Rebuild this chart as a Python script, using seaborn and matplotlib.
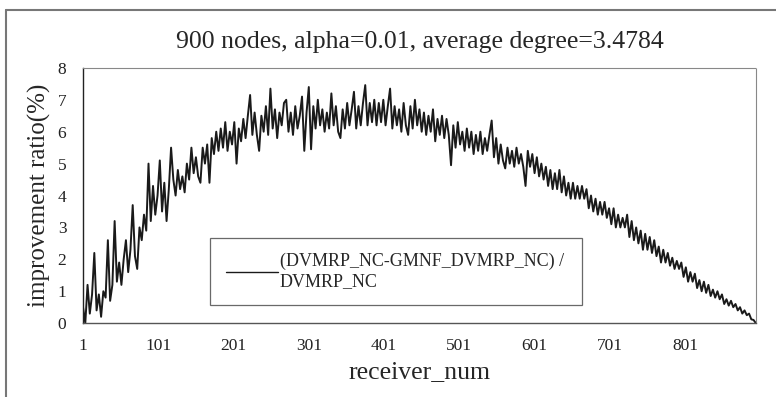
import numpy as np
import pandas as pd
import seaborn as sns
import matplotlib.pyplot as plt
from matplotlib.lines import Line2D

# improvement ratio (%), one value every 3 receivers (1, 4, 7, ... 895)
ratio = [
    0.5, 0.0, 1.2, 0.3, 0.9, 2.2, 0.4, 0.9, 0.2, 1.0,
    0.8, 2.6, 0.7, 1.2, 3.2, 1.3, 1.9, 1.2, 2.0, 2.6,
    1.6, 2.3, 3.7, 2.1, 1.7, 3.0, 2.6, 3.4, 2.9, 5.0,
    3.2, 4.3, 3.4, 4.0, 5.1, 3.5, 4.4, 3.2, 4.2, 5.5,
    4.5, 4.0, 4.8, 4.2, 4.6, 4.1, 5.0, 4.5, 5.5, 4.7,
    5.2, 4.6, 4.4, 5.5, 5.0, 5.6, 4.4, 5.8, 5.3, 6.0,
    5.4, 6.1, 5.5, 6.3, 5.4, 6.0, 5.6, 6.3, 5.0, 6.1,
    5.7, 6.4, 5.8, 6.5, 7.15, 5.9, 6.6, 5.9, 5.4, 6.5,
    6.0, 6.8, 5.9, 7.35, 6.1, 6.7, 5.8, 6.6, 6.2, 6.9,
    7.0, 6.0, 6.6, 5.9, 6.8, 6.1, 6.5, 7.1, 5.4, 6.6,
    7.4, 5.45, 6.8, 6.1, 7.0, 6.2, 6.7, 6.0, 6.6, 6.1,
    7.2, 6.2, 6.8, 6.0, 5.8, 6.7, 6.1, 6.9, 6.2, 6.7,
    7.25, 6.1, 6.8, 6.2, 6.9, 7.46, 6.2, 6.9, 6.3, 7.0,
    6.2, 6.9, 6.3, 7.0, 6.2, 6.8, 7.35, 6.1, 6.8, 6.2,
    6.7, 6.0, 6.9, 6.2, 5.9, 6.8, 6.1, 7.0, 6.2, 6.7,
    6.0, 6.6, 5.9, 6.5, 6.0, 6.7, 5.7, 6.4, 5.9, 6.5,
    5.8, 6.4, 5.9, 4.95, 6.2, 5.5, 6.3, 5.6, 6.0, 5.4,
    6.1, 5.5, 6.0, 5.3, 5.9, 5.4, 6.0, 5.3, 5.8, 5.4,
    5.9, 6.35, 5.2, 5.8, 5.0, 5.6, 5.1, 4.85, 5.5, 5.0,
    5.4, 4.9, 5.5, 5.0, 5.3, 4.9, 4.3, 5.4, 4.9, 5.3,
    4.7, 5.2, 4.6, 5.0, 4.5, 4.9, 4.3, 4.8, 4.2, 4.7,
    4.2, 4.8, 4.1, 4.6, 4.0, 4.4, 3.9, 4.4, 3.9, 4.3,
    3.9, 4.3, 3.9, 4.2, 3.6, 4.0, 3.5, 3.9, 3.4, 3.8,
    3.4, 3.8, 3.3, 3.6, 3.1, 3.6, 3.0, 3.4, 3.0, 3.3,
    3.0, 3.4, 2.7, 3.2, 2.6, 3.0, 2.5, 2.9, 2.3, 2.8,
    2.3, 2.7, 2.2, 2.6, 2.1, 2.4, 1.9, 2.3, 1.9, 2.2,
    1.8, 2.05, 1.7, 1.95, 1.7, 1.9, 1.45, 1.75, 1.3, 1.6,
    1.3, 1.55, 1.1, 1.35, 1.0, 1.3, 0.95, 1.2, 0.85, 1.05,
    0.8, 1.0, 0.75, 0.9, 0.6, 0.75, 0.55, 0.7, 0.5, 0.6,
    0.4, 0.5, 0.3, 0.4, 0.25, 0.3, 0.12, 0.1, 0.0,
]
receivers = np.arange(1, 1 + 3 * len(ratio), 3)
x_ticks = [1, 101, 201, 301, 401, 501, 601, 701, 801]
y_ticks = [0, 1, 2, 3, 4, 5, 6, 7, 8]
series_name = "(DVMRP_NC-GMNF_DVMRP_NC) /\nDVMRP_NC"
title = "900 nodes, alpha=0.01, average degree=3.4784"

df = pd.DataFrame({"receiver_num": receivers, "ratio": ratio})

sns.set_style("white")
plt.rcParams["font.family"] = ["Liberation Serif", "DejaVu Serif"]

fig = plt.figure(figsize=(7.76, 3.97), dpi=100)
ax = fig.add_axes([0.107, 0.186, 0.867, 0.643])

sns.lineplot(data=df, x="receiver_num", y="ratio", color="#1a1a1a",
             linewidth=1.4, label=series_name, ax=ax)

ax.set_xlim(1, 895)
ax.set_ylim(0, 8)
ax.set_xticks(x_ticks)
ax.set_yticks(y_ticks)
ax.tick_params(direction="in", length=4, width=0.8, colors="#222222",
               labelsize=12.5)
ax.tick_params(axis="x", pad=11)
ax.tick_params(axis="y", pad=12)

ax.set_xlabel("receiver_num", fontsize=18.5, labelpad=5)
ax.set_ylabel("improvement ratio(%)", fontsize=18, labelpad=5)
ax.set_title(title, fontsize=18.5, pad=14)

for side in ["top", "right"]:
    ax.spines[side].set_linestyle((0, (1, 1)))
    ax.spines[side].set_color("#888888")
    ax.spines[side].set_linewidth(0.8)
ax.spines["bottom"].set_linestyle((0, (1, 1)))
ax.spines["bottom"].set_color("#555555")
ax.spines["bottom"].set_linewidth(1.0)
ax.spines["left"].set_color("#222222")
ax.spines["left"].set_linewidth(1.0)

leg = ax.legend(loc="lower left", bbox_to_anchor=(0.189, 0.07, 0.552, 0.27),
                mode="expand", fontsize=13, frameon=True, fancybox=False,
                borderpad=0.85, handlelength=2.9, handletextpad=0.1,
                borderaxespad=0)
leg.get_frame().set_edgecolor("#444444")
leg.get_frame().set_linewidth(0.9)
for h in leg.get_lines():
    h.set_linewidth(1.0)

# outer chart-area border (left and top edges are visible)
fig.add_artist(Line2D([0.008, 0.008], [0.0, 0.975], color="#777777", lw=1.5))
fig.add_artist(Line2D([0.008, 1.0], [0.975, 0.975], color="#777777", lw=1.5))

fig.savefig("out.png", dpi=100)
